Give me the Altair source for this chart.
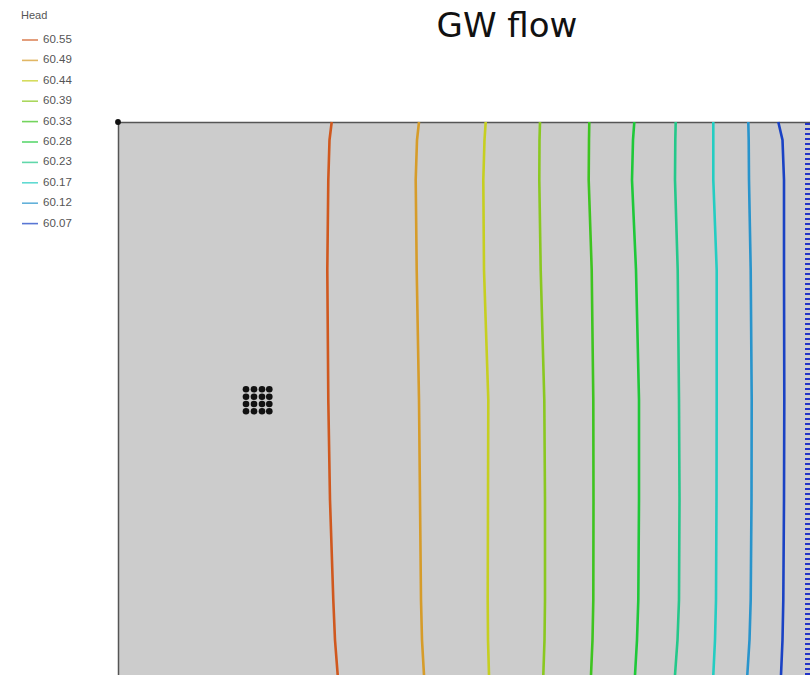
import altair as alt
import pandas as pd

# Chart title
title_text = ["GW flow"]

# Contour levels (Head) and their colours
heads = ["60.55", "60.49", "60.44", "60.39", "60.33", "60.28", "60.23", "60.17", "60.12", "60.07"]
colors = ["#d0581e", "#d69c2a", "#c6cf20", "#8ac820", "#3ec420", "#1ec838", "#24c88a", "#24cdc2", "#2894cc", "#1a42c4"]

# sample heights along each contour (model y, metres)
y_levels = [553, 535, 495, 405, 275, 175, 75, 35, 0]

# x position (model metres) of each contour at those heights
x_6055 = [213.7, 211.5, 210.3, 209.3, 210.3, 212.0, 215.3, 217.0, 219.7]
x_6049 = [301.0, 299.0, 297.7, 298.7, 301.0, 302.0, 303.0, 304.0, 306.0]
x_6044 = [367.7, 366.5, 365.3, 366.0, 370.3, 370.0, 369.7, 370.0, 371.0]
x_6039 = [422.0, 421.5, 421.3, 422.7, 426.3, 427.0, 427.0, 426.5, 425.3]
x_6033 = [471.3, 471.0, 470.7, 473.7, 475.3, 475.5, 475.3, 474.5, 473.0]
x_6028 = [516.3, 515.0, 514.0, 518.0, 521.0, 521.0, 520.3, 519.0, 517.0]
x_6023 = [557.7, 557.3, 557.0, 559.7, 561.0, 561.5, 561.0, 559.5, 557.0]
x_6017 = [595.3, 595.3, 595.3, 598.7, 598.7, 598.5, 598.0, 597.0, 595.3]
x_6012 = [630.3, 630.7, 631.0, 632.7, 633.7, 633.5, 632.7, 631.5, 629.3]
x_6007 = [660.3, 664.5, 666.0, 666.0, 666.3, 666.0, 665.3, 664.5, 663.0]

contour_x = [x_6055, x_6049, x_6044, x_6039, x_6033, x_6028, x_6023, x_6017, x_6012, x_6007]

# pumping well cluster (4 x 4)
well_cols = [128.0, 136.0, 144.0, 151.3]
well_rows = [285.7, 278.3, 271.0, 263.7]

# grid origin marker
corner_x = [0]
corner_y = [553]

# constant-head boundary on the right edge
bound_x = [689.5]
bound_y0 = [0]
bound_y1 = [553]

X_DOM = [0, 692]
Y_DOM = [0, 553]

rows = []
for h, xs in zip(heads, contour_x):
    for i, (xv, yv) in enumerate(zip(xs, y_levels)):
        rows.append({"x": xv, "y": yv, "Head": h, "i": i})
lines_df = pd.DataFrame(rows)

wells_df = pd.DataFrame([{"x": cx, "y": ry} for ry in well_rows for cx in well_cols])
corner_df = pd.DataFrame({"x": corner_x, "y": corner_y})
bound_df = pd.DataFrame({"x": bound_x, "y": bound_y0, "y2": bound_y1})
title_df = pd.DataFrame({"t": title_text})

xs = alt.Scale(domain=X_DOM, nice=False, zero=False)
ys = alt.Scale(domain=Y_DOM, nice=False, zero=False)

x_axis = alt.Axis(orient="top", labels=False, ticks=False, grid=False, title=None,
                  domain=True, domainColor="#555555", domainWidth=1.5)
y_axis = alt.Axis(orient="left", labels=False, ticks=False, grid=False, title=None,
                  domain=True, domainColor="#555555", domainWidth=1.5)

lines = alt.Chart(lines_df).mark_line(strokeWidth=2.6).encode(
    x=alt.X("x:Q", scale=xs, axis=x_axis),
    y=alt.Y("y:Q", scale=ys, axis=y_axis),
    color=alt.Color("Head:N", scale=alt.Scale(domain=heads, range=colors),
                    sort=heads, title="Head"),
    order=alt.Order("i:Q"),
)

bound = alt.Chart(bound_df).mark_rule(color="#2233c8", strokeWidth=5, strokeDash=[2, 3]).encode(
    x=alt.X("x:Q", scale=xs),
    y=alt.Y("y:Q", scale=ys),
    y2="y2:Q",
)

wells = alt.Chart(wells_df).mark_point(filled=True, shape="circle", size=44, color="#111111", opacity=1).encode(
    x=alt.X("x:Q", scale=xs),
    y=alt.Y("y:Q", scale=ys),
)

corner = alt.Chart(corner_df).mark_point(filled=True, shape="circle", size=34, color="#111111", opacity=1).encode(
    x=alt.X("x:Q", scale=xs),
    y=alt.Y("y:Q", scale=ys),
)

title = alt.Chart(title_df).mark_text(
    font="DejaVu Sans", fontSize=34, color="#111111", align="center", baseline="alphabetic"
).encode(
    text="t:N",
    x=alt.value(389),
    y=alt.value(-85),
)

chart = alt.layer(lines, bound, wells, corner, title).properties(
    width=692,
    height=553,
    padding={"left": 118, "top": 122, "right": 0, "bottom": 0},
    autosize=alt.AutoSizeParams(type="none"),
).configure_view(
    fill="#cccccc", stroke=None
).configure_legend(
    orient="none", legendX=-97, legendY=-112, padding=0,
    symbolType="stroke", symbolSize=256, symbolStrokeWidth=1.6, symbolOpacity=0.72,
    labelFont="Liberation Sans", labelFontSize=11.5, labelColor="#555555", labelOffset=4,
    titleFont="Liberation Sans", titleFontSize=11, titleFontWeight="normal", titleColor="#555555",
    titlePadding=10, rowPadding=5.4,
)

chart.save("out.html", embed_options={"renderer": "svg", "actions": False})
